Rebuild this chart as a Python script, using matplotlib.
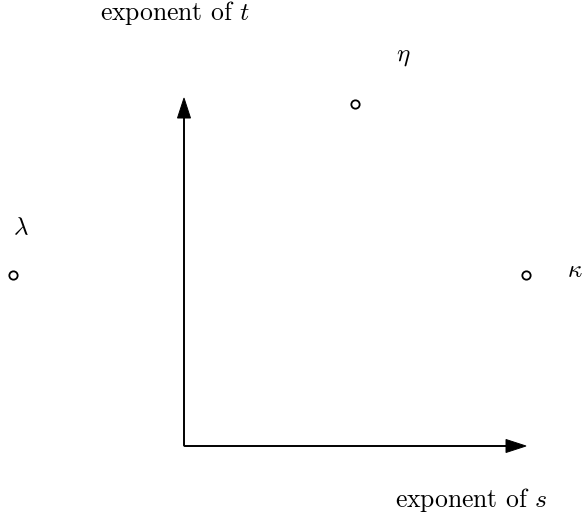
import matplotlib
matplotlib.use("Agg")
import matplotlib.pyplot as plt

plt.rcParams["mathtext.fontset"] = "cm"
plt.rcParams["font.family"] = ["cmr10", "DejaVu Serif"]
plt.rcParams["axes.formatter.use_mathtext"] = True

# exponents (s, t) of the three monomials
names = [r"$\lambda$", r"$\eta$", r"$\kappa$"]
s_exp = [-1, 1, 2]
t_exp = [1, 2, 1]
# label offsets from the points, in pixels
label_dx = [8, 48, 49]
label_dy = [47, 47, 4]

fig = plt.figure(figsize=(5.83, 5.18), dpi=100)
ax = fig.add_axes([0, 0, 1, 1])
unit = 171.0
ax.set_xlim(-184 / unit, (583 - 184) / unit)
ax.set_ylim((446 - 518) / unit, 446 / unit)
ax.axis("off")

hl, hw = 20 / unit, 13 / unit
ax.arrow(0, 0, 2.0 - hl, 0, head_length=hl, head_width=hw, lw=0.7,
         fc="black", ec="black", length_includes_head=False)
ax.arrow(0, 0, 0, 2.035 - hl, head_length=hl, head_width=hw, lw=0.7,
         fc="black", ec="black", length_includes_head=False)

ax.plot(s_exp, t_exp, "o", ms=6, mfc="white", mec="black", mew=1.3,
        ls="none")
for n, x, y, dx, dy in zip(names, s_exp, t_exp, label_dx, label_dy):
    ax.annotate(n, (x, y), xytext=(dx * 0.72, dy * 0.72),
                textcoords="offset points", ha="center", va="center",
                fontsize=18)

ax.text(-9 / unit, 433 / unit, "exponent of $t$", ha="center", va="center",
        fontsize=18.5)
ax.text(287 / unit, -54 / unit, "exponent of $s$", ha="center", va="center",
        fontsize=18.5)

fig.savefig("out.png", dpi=100)
